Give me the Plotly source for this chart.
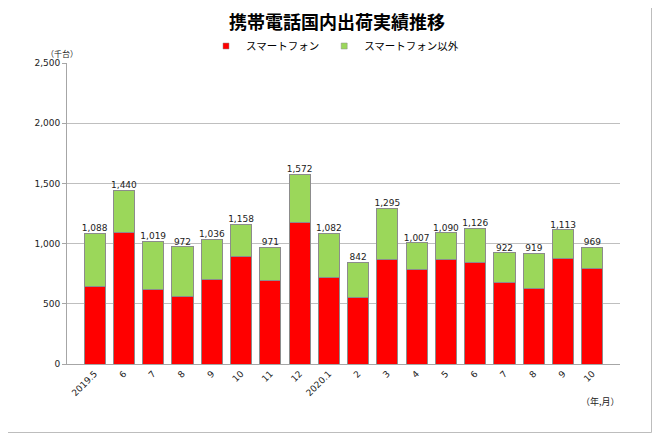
import plotly.graph_objects as go

categories = ["2019.5", "6", "7", "8", "9", "10", "11", "12", "2020.1",
              "2", "3", "4", "5", "6 ", "7 ", "8 ", "9 ", "10 "]
tick_labels = ["2019.5", "6", "7", "8", "9", "10", "11", "12", "2020.1",
               "2", "3", "4", "5", "6", "7", "8", "9", "10"]
smartphone = [643, 1090, 621, 560, 701, 891, 693, 1176, 720,
              552, 869, 784, 872, 842, 679, 627, 875, 792]
total = [1088, 1440, 1019, 972, 1036, 1158, 971, 1572, 1082,
         842, 1295, 1007, 1090, 1126, 922, 919, 1113, 969]
other = [t - s for t, s in zip(total, smartphone)]
series_names = ["スマートフォン", "スマートフォン以外"]
series_colors = ["#ff0000", "#9bd75a"]

JP = "Noto Sans CJK JP"
NUM = "DejaVu Sans"

fig = go.Figure()
for vals, name, col in zip([smartphone, other], series_names, series_colors):
    fig.add_trace(go.Bar(x=categories, y=vals, name=name, showlegend=False,
                         marker=dict(color=col, line=dict(color="#8c8c8c", width=1))))
fig.add_trace(go.Scatter(x=categories, y=total, mode="text",
                         text=[f"{v:,}" for v in total], textposition="top center",
                         textfont=dict(family=NUM, size=9, color="#222"),
                         showlegend=False, hoverinfo="skip"))
# legend entries with small square swatches
for name, col in zip(series_names, series_colors):
    fig.add_trace(go.Scatter(x=[None], y=[None], mode="markers", name=name,
                             marker=dict(symbol="square", size=6, color=col,
                                         line=dict(color="#8c8c8c", width=0.5))))

# page has an 8px body margin: figure pixel = page pixel - 8
OFF = 8
W, H = 660 - 2 * OFF, 441 - 2 * OFF
L, T = 67 - OFF, 63 - OFF
R = W - (620 - OFF)
B = H - (364 - OFF)
pw, ph = W - L - R, H - T - B


def px_x(p):
    return (p - OFF - L) / pw


def px_y(p):
    return (H - B - (p - OFF)) / ph


fig.update_layout(
    width=W, height=H,
    margin=dict(l=L, r=R, t=T, b=B),
    barmode="stack", bargap=0.28,
    plot_bgcolor="white", paper_bgcolor="white",
    title=dict(text="<b>携帯電話国内出荷実績推移</b>", x=(337 - OFF) / W, xanchor="center",
               xref="container", y=1 - (23 - OFF) / H, yanchor="middle", yref="container",
               font=dict(family=JP, size=18, color="#000")),
    legend=dict(orientation="h", x=px_x(335), xanchor="center", y=px_y(46), yanchor="middle",
                font=dict(family=JP, size=10.5, color="#000"), itemwidth=30,
                traceorder="normal", bgcolor="rgba(0,0,0,0)"),
    xaxis=dict(type="category", tickmode="array", tickvals=categories, ticktext=tick_labels,
               tickangle=-45, tickfont=dict(family=NUM, size=9, color="#222"),
               showline=True, linecolor="#a6a6a6", linewidth=1, showgrid=False,
               ticks=""),
    yaxis=dict(range=[0, 2500], dtick=500, tickformat=",", showgrid=True,
               gridcolor="#bfbfbf", gridwidth=1, showline=True, linecolor="#a6a6a6",
               ticks="outside", ticklen=4, tickcolor="#a6a6a6",
               tickfont=dict(family=NUM, size=9, color="#222"), zeroline=False),
    annotations=[
        dict(text="（千台）", x=px_x(62), y=px_y(53), xref="paper", yref="paper",
             xanchor="center", yanchor="middle",
             showarrow=False, font=dict(family=JP, size=8, color="#222")),
        dict(text="（年,月）", x=px_x(600), y=px_y(401), xref="paper", yref="paper",
             xanchor="center", yanchor="middle",
             showarrow=False, font=dict(family=JP, size=9, color="#222")),
    ],
    shapes=[
        dict(type="line", xref="paper", yref="paper",
             x0=px_x(651.5), x1=px_x(651.5), y0=px_y(432.5), y1=px_y(8),
             line=dict(color="#bdbdbd", width=1)),
        dict(type="line", xref="paper", yref="paper",
             x0=px_x(8), x1=px_x(651.5), y0=px_y(432.5), y1=px_y(432.5),
             line=dict(color="#bdbdbd", width=1)),
    ],
)

fig.write_html("out.html")
